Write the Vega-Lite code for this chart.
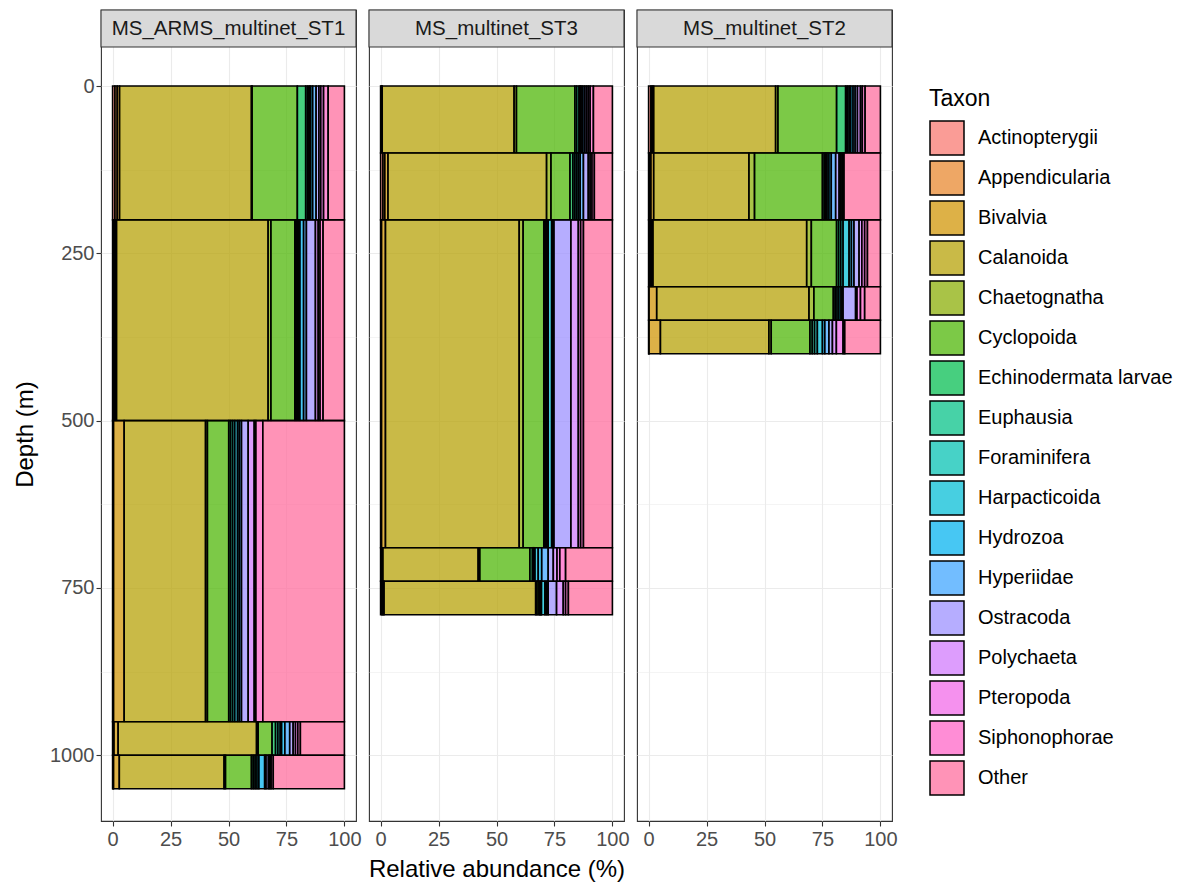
{
  "$schema": "https://vega.github.io/schema/vega-lite/v6.json",
  "padding": {"left": 12, "top": 8, "right": 5, "bottom": 2},
  "background": "white",
  "config": {
    "font": "Liberation Sans",
    "view": {"stroke": "#333333", "strokeWidth": 1.1},
    "axis": {"gridColor": "#EBEBEB", "domain": false, "tickColor": "#333333", "tickSize": 5, "tickWidth": 1.1, "labelFontSize": 20, "labelColor": "#4D4D4D", "labelPadding": 3, "titleFontSize": 24, "titleColor": "#000000", "titleFontWeight": "normal", "labelFont": "Liberation Sans", "titleFont": "Liberation Sans"},
    "legend": {"orient": "none", "legendX": 828, "legendY": 78, "titleFontSize": 23, "titleFontWeight": "normal", "titleColor": "#000000", "titlePadding": 9, "labelFontSize": 20, "labelColor": "#000000", "labelOffset": 13, "labelLimit": 400, "symbolType": "square", "symbolSize": 1156, "symbolStrokeColor": "#000000", "symbolStrokeWidth": 1.5, "rowPadding": 0, "titleFont": "Liberation Sans", "labelFont": "Liberation Sans"}
  },
  "datasets": {
    "taxa": [
      {"taxon": "Actinopterygii", "k": 0}, {"taxon": "Appendicularia", "k": 1}, {"taxon": "Bivalvia", "k": 2}, {"taxon": "Calanoida", "k": 3}, {"taxon": "Chaetognatha", "k": 4}, {"taxon": "Cyclopoida", "k": 5}, {"taxon": "Echinodermata larvae", "k": 6}, {"taxon": "Euphausia", "k": 7}, {"taxon": "Foraminifera", "k": 8}, {"taxon": "Harpacticoida", "k": 9}, {"taxon": "Hydrozoa", "k": 10}, {"taxon": "Hyperiidae", "k": 11}, {"taxon": "Ostracoda", "k": 12}, {"taxon": "Polychaeta", "k": 13}, {"taxon": "Pteropoda", "k": 14}, {"taxon": "Siphonophorae", "k": 15}, {"taxon": "Other", "k": 16}
    ],
    "abund": [
      {"station": "MS_ARMS_multinet_ST1", "top": 0, "bottom": 200, "taxon": "Actinopterygii", "pct": 1.0},
      {"station": "MS_ARMS_multinet_ST1", "top": 0, "bottom": 200, "taxon": "Appendicularia", "pct": 1.0},
      {"station": "MS_ARMS_multinet_ST1", "top": 0, "bottom": 200, "taxon": "Bivalvia", "pct": 1.0},
      {"station": "MS_ARMS_multinet_ST1", "top": 0, "bottom": 200, "taxon": "Calanoida", "pct": 56.9},
      {"station": "MS_ARMS_multinet_ST1", "top": 0, "bottom": 200, "taxon": "Chaetognatha", "pct": 0.3},
      {"station": "MS_ARMS_multinet_ST1", "top": 0, "bottom": 200, "taxon": "Cyclopoida", "pct": 19.5},
      {"station": "MS_ARMS_multinet_ST1", "top": 0, "bottom": 200, "taxon": "Echinodermata larvae", "pct": 3.6},
      {"station": "MS_ARMS_multinet_ST1", "top": 0, "bottom": 200, "taxon": "Euphausia", "pct": 0.8},
      {"station": "MS_ARMS_multinet_ST1", "top": 0, "bottom": 200, "taxon": "Foraminifera", "pct": 0.7},
      {"station": "MS_ARMS_multinet_ST1", "top": 0, "bottom": 200, "taxon": "Harpacticoida", "pct": 0.6},
      {"station": "MS_ARMS_multinet_ST1", "top": 0, "bottom": 200, "taxon": "Hydrozoa", "pct": 0.9},
      {"station": "MS_ARMS_multinet_ST1", "top": 0, "bottom": 200, "taxon": "Hyperiidae", "pct": 1.5},
      {"station": "MS_ARMS_multinet_ST1", "top": 0, "bottom": 200, "taxon": "Ostracoda", "pct": 1.2},
      {"station": "MS_ARMS_multinet_ST1", "top": 0, "bottom": 200, "taxon": "Polychaeta", "pct": 0.8},
      {"station": "MS_ARMS_multinet_ST1", "top": 0, "bottom": 200, "taxon": "Pteropoda", "pct": 1.2},
      {"station": "MS_ARMS_multinet_ST1", "top": 0, "bottom": 200, "taxon": "Siphonophorae", "pct": 2.0},
      {"station": "MS_ARMS_multinet_ST1", "top": 0, "bottom": 200, "taxon": "Other", "pct": 7.0},

      {"station": "MS_ARMS_multinet_ST1", "top": 200, "bottom": 500, "taxon": "Actinopterygii", "pct": 0.6},
      {"station": "MS_ARMS_multinet_ST1", "top": 200, "bottom": 500, "taxon": "Appendicularia", "pct": 0.5},
      {"station": "MS_ARMS_multinet_ST1", "top": 200, "bottom": 500, "taxon": "Bivalvia", "pct": 0.6},
      {"station": "MS_ARMS_multinet_ST1", "top": 200, "bottom": 500, "taxon": "Calanoida", "pct": 65.4},
      {"station": "MS_ARMS_multinet_ST1", "top": 200, "bottom": 500, "taxon": "Chaetognatha", "pct": 1.2},
      {"station": "MS_ARMS_multinet_ST1", "top": 200, "bottom": 500, "taxon": "Cyclopoida", "pct": 10.3},
      {"station": "MS_ARMS_multinet_ST1", "top": 200, "bottom": 500, "taxon": "Echinodermata larvae", "pct": 0.6},
      {"station": "MS_ARMS_multinet_ST1", "top": 200, "bottom": 500, "taxon": "Euphausia", "pct": 0.5},
      {"station": "MS_ARMS_multinet_ST1", "top": 200, "bottom": 500, "taxon": "Foraminifera", "pct": 0.6},
      {"station": "MS_ARMS_multinet_ST1", "top": 200, "bottom": 500, "taxon": "Harpacticoida", "pct": 0.5},
      {"station": "MS_ARMS_multinet_ST1", "top": 200, "bottom": 500, "taxon": "Hydrozoa", "pct": 1.6},
      {"station": "MS_ARMS_multinet_ST1", "top": 200, "bottom": 500, "taxon": "Hyperiidae", "pct": 1.2},
      {"station": "MS_ARMS_multinet_ST1", "top": 200, "bottom": 500, "taxon": "Ostracoda", "pct": 3.9},
      {"station": "MS_ARMS_multinet_ST1", "top": 200, "bottom": 500, "taxon": "Polychaeta", "pct": 1.2},
      {"station": "MS_ARMS_multinet_ST1", "top": 200, "bottom": 500, "taxon": "Pteropoda", "pct": 0.8},
      {"station": "MS_ARMS_multinet_ST1", "top": 200, "bottom": 500, "taxon": "Siphonophorae", "pct": 1.3},
      {"station": "MS_ARMS_multinet_ST1", "top": 200, "bottom": 500, "taxon": "Other", "pct": 9.2},

      {"station": "MS_ARMS_multinet_ST1", "top": 500, "bottom": 950, "taxon": "Actinopterygii", "pct": 0.2},
      {"station": "MS_ARMS_multinet_ST1", "top": 500, "bottom": 950, "taxon": "Appendicularia", "pct": 0.2},
      {"station": "MS_ARMS_multinet_ST1", "top": 500, "bottom": 950, "taxon": "Bivalvia", "pct": 4.6},
      {"station": "MS_ARMS_multinet_ST1", "top": 500, "bottom": 950, "taxon": "Calanoida", "pct": 35.1},
      {"station": "MS_ARMS_multinet_ST1", "top": 500, "bottom": 950, "taxon": "Chaetognatha", "pct": 0.8},
      {"station": "MS_ARMS_multinet_ST1", "top": 500, "bottom": 950, "taxon": "Cyclopoida", "pct": 9.2},
      {"station": "MS_ARMS_multinet_ST1", "top": 500, "bottom": 950, "taxon": "Echinodermata larvae", "pct": 0.8},
      {"station": "MS_ARMS_multinet_ST1", "top": 500, "bottom": 950, "taxon": "Euphausia", "pct": 0.9},
      {"station": "MS_ARMS_multinet_ST1", "top": 500, "bottom": 950, "taxon": "Foraminifera", "pct": 0.9},
      {"station": "MS_ARMS_multinet_ST1", "top": 500, "bottom": 950, "taxon": "Harpacticoida", "pct": 1.2},
      {"station": "MS_ARMS_multinet_ST1", "top": 500, "bottom": 950, "taxon": "Hydrozoa", "pct": 0.8},
      {"station": "MS_ARMS_multinet_ST1", "top": 500, "bottom": 950, "taxon": "Hyperiidae", "pct": 0.9},
      {"station": "MS_ARMS_multinet_ST1", "top": 500, "bottom": 950, "taxon": "Ostracoda", "pct": 2.9},
      {"station": "MS_ARMS_multinet_ST1", "top": 500, "bottom": 950, "taxon": "Polychaeta", "pct": 2.6},
      {"station": "MS_ARMS_multinet_ST1", "top": 500, "bottom": 950, "taxon": "Pteropoda", "pct": 0.7},
      {"station": "MS_ARMS_multinet_ST1", "top": 500, "bottom": 950, "taxon": "Siphonophorae", "pct": 3.0},
      {"station": "MS_ARMS_multinet_ST1", "top": 500, "bottom": 950, "taxon": "Other", "pct": 35.2},

      {"station": "MS_ARMS_multinet_ST1", "top": 950, "bottom": 1000, "taxon": "Actinopterygii", "pct": 0.3},
      {"station": "MS_ARMS_multinet_ST1", "top": 950, "bottom": 1000, "taxon": "Appendicularia", "pct": 0.3},
      {"station": "MS_ARMS_multinet_ST1", "top": 950, "bottom": 1000, "taxon": "Bivalvia", "pct": 1.8},
      {"station": "MS_ARMS_multinet_ST1", "top": 950, "bottom": 1000, "taxon": "Calanoida", "pct": 59.7},
      {"station": "MS_ARMS_multinet_ST1", "top": 950, "bottom": 1000, "taxon": "Chaetognatha", "pct": 0.7},
      {"station": "MS_ARMS_multinet_ST1", "top": 950, "bottom": 1000, "taxon": "Cyclopoida", "pct": 6.0},
      {"station": "MS_ARMS_multinet_ST1", "top": 950, "bottom": 1000, "taxon": "Echinodermata larvae", "pct": 1.5},
      {"station": "MS_ARMS_multinet_ST1", "top": 950, "bottom": 1000, "taxon": "Euphausia", "pct": 1.0},
      {"station": "MS_ARMS_multinet_ST1", "top": 950, "bottom": 1000, "taxon": "Foraminifera", "pct": 1.0},
      {"station": "MS_ARMS_multinet_ST1", "top": 950, "bottom": 1000, "taxon": "Harpacticoida", "pct": 0.6},
      {"station": "MS_ARMS_multinet_ST1", "top": 950, "bottom": 1000, "taxon": "Hydrozoa", "pct": 1.4},
      {"station": "MS_ARMS_multinet_ST1", "top": 950, "bottom": 1000, "taxon": "Hyperiidae", "pct": 2.1},
      {"station": "MS_ARMS_multinet_ST1", "top": 950, "bottom": 1000, "taxon": "Ostracoda", "pct": 1.5},
      {"station": "MS_ARMS_multinet_ST1", "top": 950, "bottom": 1000, "taxon": "Polychaeta", "pct": 1.0},
      {"station": "MS_ARMS_multinet_ST1", "top": 950, "bottom": 1000, "taxon": "Pteropoda", "pct": 1.0},
      {"station": "MS_ARMS_multinet_ST1", "top": 950, "bottom": 1000, "taxon": "Siphonophorae", "pct": 1.1},
      {"station": "MS_ARMS_multinet_ST1", "top": 950, "bottom": 1000, "taxon": "Other", "pct": 19.0},

      {"station": "MS_ARMS_multinet_ST1", "top": 1000, "bottom": 1050, "taxon": "Actinopterygii", "pct": 0.2},
      {"station": "MS_ARMS_multinet_ST1", "top": 1000, "bottom": 1050, "taxon": "Appendicularia", "pct": 0.2},
      {"station": "MS_ARMS_multinet_ST1", "top": 1000, "bottom": 1050, "taxon": "Bivalvia", "pct": 2.5},
      {"station": "MS_ARMS_multinet_ST1", "top": 1000, "bottom": 1050, "taxon": "Calanoida", "pct": 45.2},
      {"station": "MS_ARMS_multinet_ST1", "top": 1000, "bottom": 1050, "taxon": "Chaetognatha", "pct": 0.6},
      {"station": "MS_ARMS_multinet_ST1", "top": 1000, "bottom": 1050, "taxon": "Cyclopoida", "pct": 11.2},
      {"station": "MS_ARMS_multinet_ST1", "top": 1000, "bottom": 1050, "taxon": "Echinodermata larvae", "pct": 0.8},
      {"station": "MS_ARMS_multinet_ST1", "top": 1000, "bottom": 1050, "taxon": "Euphausia", "pct": 0.8},
      {"station": "MS_ARMS_multinet_ST1", "top": 1000, "bottom": 1050, "taxon": "Foraminifera", "pct": 0.8},
      {"station": "MS_ARMS_multinet_ST1", "top": 1000, "bottom": 1050, "taxon": "Harpacticoida", "pct": 0.8},
      {"station": "MS_ARMS_multinet_ST1", "top": 1000, "bottom": 1050, "taxon": "Hydrozoa", "pct": 2.5},
      {"station": "MS_ARMS_multinet_ST1", "top": 1000, "bottom": 1050, "taxon": "Hyperiidae", "pct": 0.6},
      {"station": "MS_ARMS_multinet_ST1", "top": 1000, "bottom": 1050, "taxon": "Ostracoda", "pct": 1.0},
      {"station": "MS_ARMS_multinet_ST1", "top": 1000, "bottom": 1050, "taxon": "Polychaeta", "pct": 0.6},
      {"station": "MS_ARMS_multinet_ST1", "top": 1000, "bottom": 1050, "taxon": "Pteropoda", "pct": 0.6},
      {"station": "MS_ARMS_multinet_ST1", "top": 1000, "bottom": 1050, "taxon": "Siphonophorae", "pct": 0.9},
      {"station": "MS_ARMS_multinet_ST1", "top": 1000, "bottom": 1050, "taxon": "Other", "pct": 30.7},

      {"station": "MS_multinet_ST3", "top": 0, "bottom": 100, "taxon": "Actinopterygii", "pct": 0.3},
      {"station": "MS_multinet_ST3", "top": 0, "bottom": 100, "taxon": "Appendicularia", "pct": 0.2},
      {"station": "MS_multinet_ST3", "top": 0, "bottom": 100, "taxon": "Bivalvia", "pct": 0.2},
      {"station": "MS_multinet_ST3", "top": 0, "bottom": 100, "taxon": "Calanoida", "pct": 56.9},
      {"station": "MS_multinet_ST3", "top": 0, "bottom": 100, "taxon": "Chaetognatha", "pct": 1.0},
      {"station": "MS_multinet_ST3", "top": 0, "bottom": 100, "taxon": "Cyclopoida", "pct": 25.2},
      {"station": "MS_multinet_ST3", "top": 0, "bottom": 100, "taxon": "Echinodermata larvae", "pct": 0.8},
      {"station": "MS_multinet_ST3", "top": 0, "bottom": 100, "taxon": "Euphausia", "pct": 1.0},
      {"station": "MS_multinet_ST3", "top": 0, "bottom": 100, "taxon": "Foraminifera", "pct": 0.5},
      {"station": "MS_multinet_ST3", "top": 0, "bottom": 100, "taxon": "Harpacticoida", "pct": 0.4},
      {"station": "MS_multinet_ST3", "top": 0, "bottom": 100, "taxon": "Hydrozoa", "pct": 0.7},
      {"station": "MS_multinet_ST3", "top": 0, "bottom": 100, "taxon": "Hyperiidae", "pct": 0.8},
      {"station": "MS_multinet_ST3", "top": 0, "bottom": 100, "taxon": "Ostracoda", "pct": 0.8},
      {"station": "MS_multinet_ST3", "top": 0, "bottom": 100, "taxon": "Polychaeta", "pct": 0.8},
      {"station": "MS_multinet_ST3", "top": 0, "bottom": 100, "taxon": "Pteropoda", "pct": 0.8},
      {"station": "MS_multinet_ST3", "top": 0, "bottom": 100, "taxon": "Siphonophorae", "pct": 1.4},
      {"station": "MS_multinet_ST3", "top": 0, "bottom": 100, "taxon": "Other", "pct": 8.2},

      {"station": "MS_multinet_ST3", "top": 100, "bottom": 200, "taxon": "Actinopterygii", "pct": 1.0},
      {"station": "MS_multinet_ST3", "top": 100, "bottom": 200, "taxon": "Appendicularia", "pct": 0.8},
      {"station": "MS_multinet_ST3", "top": 100, "bottom": 200, "taxon": "Bivalvia", "pct": 1.4},
      {"station": "MS_multinet_ST3", "top": 100, "bottom": 200, "taxon": "Calanoida", "pct": 68.4},
      {"station": "MS_multinet_ST3", "top": 100, "bottom": 200, "taxon": "Chaetognatha", "pct": 1.9},
      {"station": "MS_multinet_ST3", "top": 100, "bottom": 200, "taxon": "Cyclopoida", "pct": 8.2},
      {"station": "MS_multinet_ST3", "top": 100, "bottom": 200, "taxon": "Echinodermata larvae", "pct": 1.2},
      {"station": "MS_multinet_ST3", "top": 100, "bottom": 200, "taxon": "Euphausia", "pct": 0.8},
      {"station": "MS_multinet_ST3", "top": 100, "bottom": 200, "taxon": "Foraminifera", "pct": 0.8},
      {"station": "MS_multinet_ST3", "top": 100, "bottom": 200, "taxon": "Harpacticoida", "pct": 0.8},
      {"station": "MS_multinet_ST3", "top": 100, "bottom": 200, "taxon": "Hydrozoa", "pct": 0.8},
      {"station": "MS_multinet_ST3", "top": 100, "bottom": 200, "taxon": "Hyperiidae", "pct": 1.4},
      {"station": "MS_multinet_ST3", "top": 100, "bottom": 200, "taxon": "Ostracoda", "pct": 2.1},
      {"station": "MS_multinet_ST3", "top": 100, "bottom": 200, "taxon": "Polychaeta", "pct": 0.8},
      {"station": "MS_multinet_ST3", "top": 100, "bottom": 200, "taxon": "Pteropoda", "pct": 0.8},
      {"station": "MS_multinet_ST3", "top": 100, "bottom": 200, "taxon": "Siphonophorae", "pct": 1.0},
      {"station": "MS_multinet_ST3", "top": 100, "bottom": 200, "taxon": "Other", "pct": 7.8},

      {"station": "MS_multinet_ST3", "top": 200, "bottom": 690, "taxon": "Actinopterygii", "pct": 0.2},
      {"station": "MS_multinet_ST3", "top": 200, "bottom": 690, "taxon": "Appendicularia", "pct": 0.2},
      {"station": "MS_multinet_ST3", "top": 200, "bottom": 690, "taxon": "Bivalvia", "pct": 1.7},
      {"station": "MS_multinet_ST3", "top": 200, "bottom": 690, "taxon": "Calanoida", "pct": 57.7},
      {"station": "MS_multinet_ST3", "top": 200, "bottom": 690, "taxon": "Chaetognatha", "pct": 1.7},
      {"station": "MS_multinet_ST3", "top": 200, "bottom": 690, "taxon": "Cyclopoida", "pct": 8.9},
      {"station": "MS_multinet_ST3", "top": 200, "bottom": 690, "taxon": "Echinodermata larvae", "pct": 0.6},
      {"station": "MS_multinet_ST3", "top": 200, "bottom": 690, "taxon": "Euphausia", "pct": 0.6},
      {"station": "MS_multinet_ST3", "top": 200, "bottom": 690, "taxon": "Foraminifera", "pct": 0.7},
      {"station": "MS_multinet_ST3", "top": 200, "bottom": 690, "taxon": "Harpacticoida", "pct": 1.5},
      {"station": "MS_multinet_ST3", "top": 200, "bottom": 690, "taxon": "Hydrozoa", "pct": 0.5},
      {"station": "MS_multinet_ST3", "top": 200, "bottom": 690, "taxon": "Hyperiidae", "pct": 0.5},
      {"station": "MS_multinet_ST3", "top": 200, "bottom": 690, "taxon": "Ostracoda", "pct": 7.3},
      {"station": "MS_multinet_ST3", "top": 200, "bottom": 690, "taxon": "Polychaeta", "pct": 3.2},
      {"station": "MS_multinet_ST3", "top": 200, "bottom": 690, "taxon": "Pteropoda", "pct": 1.0},
      {"station": "MS_multinet_ST3", "top": 200, "bottom": 690, "taxon": "Siphonophorae", "pct": 1.2},
      {"station": "MS_multinet_ST3", "top": 200, "bottom": 690, "taxon": "Other", "pct": 12.5},

      {"station": "MS_multinet_ST3", "top": 690, "bottom": 740, "taxon": "Actinopterygii", "pct": 0.2},
      {"station": "MS_multinet_ST3", "top": 690, "bottom": 740, "taxon": "Appendicularia", "pct": 0.2},
      {"station": "MS_multinet_ST3", "top": 690, "bottom": 740, "taxon": "Bivalvia", "pct": 0.6},
      {"station": "MS_multinet_ST3", "top": 690, "bottom": 740, "taxon": "Calanoida", "pct": 41.1},
      {"station": "MS_multinet_ST3", "top": 690, "bottom": 740, "taxon": "Chaetognatha", "pct": 0.7},
      {"station": "MS_multinet_ST3", "top": 690, "bottom": 740, "taxon": "Cyclopoida", "pct": 21.6},
      {"station": "MS_multinet_ST3", "top": 690, "bottom": 740, "taxon": "Echinodermata larvae", "pct": 1.1},
      {"station": "MS_multinet_ST3", "top": 690, "bottom": 740, "taxon": "Euphausia", "pct": 0.5},
      {"station": "MS_multinet_ST3", "top": 690, "bottom": 740, "taxon": "Foraminifera", "pct": 0.6},
      {"station": "MS_multinet_ST3", "top": 690, "bottom": 740, "taxon": "Harpacticoida", "pct": 1.4},
      {"station": "MS_multinet_ST3", "top": 690, "bottom": 740, "taxon": "Hydrozoa", "pct": 1.5},
      {"station": "MS_multinet_ST3", "top": 690, "bottom": 740, "taxon": "Hyperiidae", "pct": 2.8},
      {"station": "MS_multinet_ST3", "top": 690, "bottom": 740, "taxon": "Ostracoda", "pct": 2.2},
      {"station": "MS_multinet_ST3", "top": 690, "bottom": 740, "taxon": "Polychaeta", "pct": 1.6},
      {"station": "MS_multinet_ST3", "top": 690, "bottom": 740, "taxon": "Pteropoda", "pct": 1.2},
      {"station": "MS_multinet_ST3", "top": 690, "bottom": 740, "taxon": "Siphonophorae", "pct": 2.5},
      {"station": "MS_multinet_ST3", "top": 690, "bottom": 740, "taxon": "Other", "pct": 20.2},

      {"station": "MS_multinet_ST3", "top": 740, "bottom": 790, "taxon": "Actinopterygii", "pct": 0.5},
      {"station": "MS_multinet_ST3", "top": 740, "bottom": 790, "taxon": "Appendicularia", "pct": 0.5},
      {"station": "MS_multinet_ST3", "top": 740, "bottom": 790, "taxon": "Bivalvia", "pct": 0.5},
      {"station": "MS_multinet_ST3", "top": 740, "bottom": 790, "taxon": "Calanoida", "pct": 65.4},
      {"station": "MS_multinet_ST3", "top": 740, "bottom": 790, "taxon": "Chaetognatha", "pct": 0.6},
      {"station": "MS_multinet_ST3", "top": 740, "bottom": 790, "taxon": "Cyclopoida", "pct": 0.8},
      {"station": "MS_multinet_ST3", "top": 740, "bottom": 790, "taxon": "Echinodermata larvae", "pct": 0.4},
      {"station": "MS_multinet_ST3", "top": 740, "bottom": 790, "taxon": "Euphausia", "pct": 0.4},
      {"station": "MS_multinet_ST3", "top": 740, "bottom": 790, "taxon": "Foraminifera", "pct": 0.3},
      {"station": "MS_multinet_ST3", "top": 740, "bottom": 790, "taxon": "Harpacticoida", "pct": 1.5},
      {"station": "MS_multinet_ST3", "top": 740, "bottom": 790, "taxon": "Hydrozoa", "pct": 0.7},
      {"station": "MS_multinet_ST3", "top": 740, "bottom": 790, "taxon": "Hyperiidae", "pct": 0.7},
      {"station": "MS_multinet_ST3", "top": 740, "bottom": 790, "taxon": "Ostracoda", "pct": 3.6},
      {"station": "MS_multinet_ST3", "top": 740, "bottom": 790, "taxon": "Polychaeta", "pct": 2.9},
      {"station": "MS_multinet_ST3", "top": 740, "bottom": 790, "taxon": "Pteropoda", "pct": 1.0},
      {"station": "MS_multinet_ST3", "top": 740, "bottom": 790, "taxon": "Siphonophorae", "pct": 1.2},
      {"station": "MS_multinet_ST3", "top": 740, "bottom": 790, "taxon": "Other", "pct": 19.0},

      {"station": "MS_multinet_ST2", "top": 0, "bottom": 100, "taxon": "Actinopterygii", "pct": 1.0},
      {"station": "MS_multinet_ST2", "top": 0, "bottom": 100, "taxon": "Appendicularia", "pct": 0.6},
      {"station": "MS_multinet_ST2", "top": 0, "bottom": 100, "taxon": "Bivalvia", "pct": 0.6},
      {"station": "MS_multinet_ST2", "top": 0, "bottom": 100, "taxon": "Calanoida", "pct": 52.6},
      {"station": "MS_multinet_ST2", "top": 0, "bottom": 100, "taxon": "Chaetognatha", "pct": 1.0},
      {"station": "MS_multinet_ST2", "top": 0, "bottom": 100, "taxon": "Cyclopoida", "pct": 25.3},
      {"station": "MS_multinet_ST2", "top": 0, "bottom": 100, "taxon": "Echinodermata larvae", "pct": 3.9},
      {"station": "MS_multinet_ST2", "top": 0, "bottom": 100, "taxon": "Euphausia", "pct": 0.7},
      {"station": "MS_multinet_ST2", "top": 0, "bottom": 100, "taxon": "Foraminifera", "pct": 0.8},
      {"station": "MS_multinet_ST2", "top": 0, "bottom": 100, "taxon": "Harpacticoida", "pct": 0.7},
      {"station": "MS_multinet_ST2", "top": 0, "bottom": 100, "taxon": "Hydrozoa", "pct": 1.0},
      {"station": "MS_multinet_ST2", "top": 0, "bottom": 100, "taxon": "Hyperiidae", "pct": 0.9},
      {"station": "MS_multinet_ST2", "top": 0, "bottom": 100, "taxon": "Ostracoda", "pct": 1.0},
      {"station": "MS_multinet_ST2", "top": 0, "bottom": 100, "taxon": "Polychaeta", "pct": 1.3},
      {"station": "MS_multinet_ST2", "top": 0, "bottom": 100, "taxon": "Pteropoda", "pct": 0.8},
      {"station": "MS_multinet_ST2", "top": 0, "bottom": 100, "taxon": "Siphonophorae", "pct": 1.2},
      {"station": "MS_multinet_ST2", "top": 0, "bottom": 100, "taxon": "Other", "pct": 6.6},

      {"station": "MS_multinet_ST2", "top": 100, "bottom": 200, "taxon": "Actinopterygii", "pct": 0.5},
      {"station": "MS_multinet_ST2", "top": 100, "bottom": 200, "taxon": "Appendicularia", "pct": 0.5},
      {"station": "MS_multinet_ST2", "top": 100, "bottom": 200, "taxon": "Bivalvia", "pct": 1.2},
      {"station": "MS_multinet_ST2", "top": 100, "bottom": 200, "taxon": "Calanoida", "pct": 41.1},
      {"station": "MS_multinet_ST2", "top": 100, "bottom": 200, "taxon": "Chaetognatha", "pct": 2.4},
      {"station": "MS_multinet_ST2", "top": 100, "bottom": 200, "taxon": "Cyclopoida", "pct": 29.3},
      {"station": "MS_multinet_ST2", "top": 100, "bottom": 200, "taxon": "Echinodermata larvae", "pct": 0.8},
      {"station": "MS_multinet_ST2", "top": 100, "bottom": 200, "taxon": "Euphausia", "pct": 0.6},
      {"station": "MS_multinet_ST2", "top": 100, "bottom": 200, "taxon": "Foraminifera", "pct": 0.6},
      {"station": "MS_multinet_ST2", "top": 100, "bottom": 200, "taxon": "Harpacticoida", "pct": 0.8},
      {"station": "MS_multinet_ST2", "top": 100, "bottom": 200, "taxon": "Hydrozoa", "pct": 1.0},
      {"station": "MS_multinet_ST2", "top": 100, "bottom": 200, "taxon": "Hyperiidae", "pct": 1.9},
      {"station": "MS_multinet_ST2", "top": 100, "bottom": 200, "taxon": "Ostracoda", "pct": 1.5},
      {"station": "MS_multinet_ST2", "top": 100, "bottom": 200, "taxon": "Polychaeta", "pct": 0.7},
      {"station": "MS_multinet_ST2", "top": 100, "bottom": 200, "taxon": "Pteropoda", "pct": 0.7},
      {"station": "MS_multinet_ST2", "top": 100, "bottom": 200, "taxon": "Siphonophorae", "pct": 0.7},
      {"station": "MS_multinet_ST2", "top": 100, "bottom": 200, "taxon": "Other", "pct": 15.7},

      {"station": "MS_multinet_ST2", "top": 200, "bottom": 300, "taxon": "Actinopterygii", "pct": 0.6},
      {"station": "MS_multinet_ST2", "top": 200, "bottom": 300, "taxon": "Appendicularia", "pct": 0.6},
      {"station": "MS_multinet_ST2", "top": 200, "bottom": 300, "taxon": "Bivalvia", "pct": 0.7},
      {"station": "MS_multinet_ST2", "top": 200, "bottom": 300, "taxon": "Calanoida", "pct": 66.3},
      {"station": "MS_multinet_ST2", "top": 200, "bottom": 300, "taxon": "Chaetognatha", "pct": 2.0},
      {"station": "MS_multinet_ST2", "top": 200, "bottom": 300, "taxon": "Cyclopoida", "pct": 10.9},
      {"station": "MS_multinet_ST2", "top": 200, "bottom": 300, "taxon": "Echinodermata larvae", "pct": 0.9},
      {"station": "MS_multinet_ST2", "top": 200, "bottom": 300, "taxon": "Euphausia", "pct": 0.9},
      {"station": "MS_multinet_ST2", "top": 200, "bottom": 300, "taxon": "Foraminifera", "pct": 1.0},
      {"station": "MS_multinet_ST2", "top": 200, "bottom": 300, "taxon": "Harpacticoida", "pct": 2.6},
      {"station": "MS_multinet_ST2", "top": 200, "bottom": 300, "taxon": "Hydrozoa", "pct": 1.0},
      {"station": "MS_multinet_ST2", "top": 200, "bottom": 300, "taxon": "Hyperiidae", "pct": 1.1},
      {"station": "MS_multinet_ST2", "top": 200, "bottom": 300, "taxon": "Ostracoda", "pct": 2.2},
      {"station": "MS_multinet_ST2", "top": 200, "bottom": 300, "taxon": "Polychaeta", "pct": 1.2},
      {"station": "MS_multinet_ST2", "top": 200, "bottom": 300, "taxon": "Pteropoda", "pct": 1.2},
      {"station": "MS_multinet_ST2", "top": 200, "bottom": 300, "taxon": "Siphonophorae", "pct": 1.2},
      {"station": "MS_multinet_ST2", "top": 200, "bottom": 300, "taxon": "Other", "pct": 5.6},

      {"station": "MS_multinet_ST2", "top": 300, "bottom": 350, "taxon": "Actinopterygii", "pct": 0.1},
      {"station": "MS_multinet_ST2", "top": 300, "bottom": 350, "taxon": "Appendicularia", "pct": 0.1},
      {"station": "MS_multinet_ST2", "top": 300, "bottom": 350, "taxon": "Bivalvia", "pct": 3.3},
      {"station": "MS_multinet_ST2", "top": 300, "bottom": 350, "taxon": "Calanoida", "pct": 65.7},
      {"station": "MS_multinet_ST2", "top": 300, "bottom": 350, "taxon": "Chaetognatha", "pct": 2.1},
      {"station": "MS_multinet_ST2", "top": 300, "bottom": 350, "taxon": "Cyclopoida", "pct": 8.4},
      {"station": "MS_multinet_ST2", "top": 300, "bottom": 350, "taxon": "Echinodermata larvae", "pct": 0.8},
      {"station": "MS_multinet_ST2", "top": 300, "bottom": 350, "taxon": "Euphausia", "pct": 0.8},
      {"station": "MS_multinet_ST2", "top": 300, "bottom": 350, "taxon": "Foraminifera", "pct": 0.8},
      {"station": "MS_multinet_ST2", "top": 300, "bottom": 350, "taxon": "Harpacticoida", "pct": 0.9},
      {"station": "MS_multinet_ST2", "top": 300, "bottom": 350, "taxon": "Hydrozoa", "pct": 0.4},
      {"station": "MS_multinet_ST2", "top": 300, "bottom": 350, "taxon": "Hyperiidae", "pct": 0.5},
      {"station": "MS_multinet_ST2", "top": 300, "bottom": 350, "taxon": "Ostracoda", "pct": 5.4},
      {"station": "MS_multinet_ST2", "top": 300, "bottom": 350, "taxon": "Polychaeta", "pct": 0.6},
      {"station": "MS_multinet_ST2", "top": 300, "bottom": 350, "taxon": "Pteropoda", "pct": 1.5},
      {"station": "MS_multinet_ST2", "top": 300, "bottom": 350, "taxon": "Siphonophorae", "pct": 1.8},
      {"station": "MS_multinet_ST2", "top": 300, "bottom": 350, "taxon": "Other", "pct": 6.8},

      {"station": "MS_multinet_ST2", "top": 350, "bottom": 400, "taxon": "Actinopterygii", "pct": 0.1},
      {"station": "MS_multinet_ST2", "top": 350, "bottom": 400, "taxon": "Appendicularia", "pct": 0.1},
      {"station": "MS_multinet_ST2", "top": 350, "bottom": 400, "taxon": "Bivalvia", "pct": 4.9},
      {"station": "MS_multinet_ST2", "top": 350, "bottom": 400, "taxon": "Calanoida", "pct": 46.8},
      {"station": "MS_multinet_ST2", "top": 350, "bottom": 400, "taxon": "Chaetognatha", "pct": 1.0},
      {"station": "MS_multinet_ST2", "top": 350, "bottom": 400, "taxon": "Cyclopoida", "pct": 16.7},
      {"station": "MS_multinet_ST2", "top": 350, "bottom": 400, "taxon": "Echinodermata larvae", "pct": 1.0},
      {"station": "MS_multinet_ST2", "top": 350, "bottom": 400, "taxon": "Euphausia", "pct": 1.0},
      {"station": "MS_multinet_ST2", "top": 350, "bottom": 400, "taxon": "Foraminifera", "pct": 1.2},
      {"station": "MS_multinet_ST2", "top": 350, "bottom": 400, "taxon": "Harpacticoida", "pct": 2.2},
      {"station": "MS_multinet_ST2", "top": 350, "bottom": 400, "taxon": "Hydrozoa", "pct": 1.0},
      {"station": "MS_multinet_ST2", "top": 350, "bottom": 400, "taxon": "Hyperiidae", "pct": 1.8},
      {"station": "MS_multinet_ST2", "top": 350, "bottom": 400, "taxon": "Ostracoda", "pct": 1.5},
      {"station": "MS_multinet_ST2", "top": 350, "bottom": 400, "taxon": "Polychaeta", "pct": 1.7},
      {"station": "MS_multinet_ST2", "top": 350, "bottom": 400, "taxon": "Pteropoda", "pct": 2.9},
      {"station": "MS_multinet_ST2", "top": 350, "bottom": 400, "taxon": "Siphonophorae", "pct": 0.7},
      {"station": "MS_multinet_ST2", "top": 350, "bottom": 400, "taxon": "Other", "pct": 15.4}
    ]
  },
  "hconcat": [
    {
      "width": 255, "height": 811,
      "layer": [
        {
          "data": {"name": "abund"},
          "transform": [
            {"filter": "datum.station === 'MS_ARMS_multinet_ST1'"},
            {"lookup": "taxon", "from": {"data": {"name": "taxa"}, "key": "taxon", "fields": ["k"]}},
            {"stack": "pct", "groupby": ["top"], "sort": [{"field": "k", "order": "ascending"}], "as": ["x0", "x1"]}
          ],
          "mark": {"type": "rect", "stroke": "#000000", "strokeWidth": 1.6, "fillOpacity": 0.72},
          "encoding": {
            "x": {"field": "x0", "type": "quantitative", "scale": {"domain": [-5, 105], "nice": false, "zero": false},
              "axis": {"title": null, "values": [0, 12.5, 25, 37.5, 50, 62.5, 75, 87.5, 100], "labelExpr": "datum.value % 25 === 0 ? datum.label : ''", "tickOpacity": {"condition": {"test": "datum.value % 25 === 0", "value": 1}, "value": 0}, "gridWidth": {"condition": {"test": "datum.value % 25 === 0", "value": 1.1}, "value": 0.55}, "labelFlush": false, "labelOverlap": false}},
            "x2": {"field": "x1"},
            "y": {"field": "top", "type": "quantitative", "scale": {"domain": [-113.6, 1098.3], "reverse": true, "nice": false, "zero": false},
              "axis": {"title": "Depth (m)", "titlePadding": 12, "titleY": 424, "labelPadding": 2, "format": "d", "values": [0, 125, 250, 375, 500, 625, 750, 875, 1000], "labelExpr": "datum.value % 250 === 0 ? datum.label : ''", "tickOpacity": {"condition": {"test": "datum.value % 250 === 0", "value": 1}, "value": 0}, "gridWidth": {"condition": {"test": "datum.value % 250 === 0", "value": 1.1}, "value": 0.55}, "labelFlush": false, "labelOverlap": false}},
            "y2": {"field": "bottom"},
            "fill": {"field": "taxon", "type": "nominal", "title": "Taxon",
              "legend": {"encode": {"symbols": {"update": {"fillOpacity": {"value": 0.72}, "strokeOpacity": {"value": 1}}}}},
              "scale": {"domain": ["Actinopterygii", "Appendicularia", "Bivalvia", "Calanoida", "Chaetognatha", "Cyclopoida", "Echinodermata larvae", "Euphausia", "Foraminifera", "Harpacticoida", "Hydrozoa", "Hyperiidae", "Ostracoda", "Polychaeta", "Pteropoda", "Siphonophorae", "Other"],
                "range": ["#F8766D", "#E8852A", "#D09300", "#B49F00", "#88AC00", "#4AB400", "#00BC4D", "#00C085", "#00C0B1", "#00BCD5", "#00B2EF", "#3CA3FF", "#9A8DFF", "#D077FC", "#F166E8", "#FF61C6", "#FF699B"]}}
          }
        },
        {
          "data": {"values": [{"station": "MS_ARMS_multinet_ST1"}]},
          "mark": {"type": "rect", "fill": "#D9D9D9", "stroke": "#333333", "strokeWidth": 1.1},
          "encoding": {"x": {"datum": -5}, "x2": {"datum": 105}, "y": {"datum": -113.6}, "y2": {"datum": -58.3}}
        },
        {
          "data": {"values": [{"station": "MS_ARMS_multinet_ST1"}]},
          "mark": {"type": "text", "fontSize": 20.5, "color": "#1A1A1A", "font": "Liberation Sans", "baseline": "middle"},
          "encoding": {"text": {"field": "station", "type": "nominal"}, "y": {"datum": -85.95}}
        }
      ]
    },
    {
      "width": 255, "height": 811,
      "layer": [
        {
          "data": {"name": "abund"},
          "transform": [
            {"filter": "datum.station === 'MS_multinet_ST3'"},
            {"lookup": "taxon", "from": {"data": {"name": "taxa"}, "key": "taxon", "fields": ["k"]}},
            {"stack": "pct", "groupby": ["top"], "sort": [{"field": "k", "order": "ascending"}], "as": ["x0", "x1"]}
          ],
          "mark": {"type": "rect", "stroke": "#000000", "strokeWidth": 1.6, "fillOpacity": 0.72},
          "encoding": {
            "x": {"field": "x0", "type": "quantitative", "scale": {"domain": [-5, 105], "nice": false, "zero": false},
              "axis": {"title": "Relative abundance (%)", "titlePadding": 8, "values": [0, 12.5, 25, 37.5, 50, 62.5, 75, 87.5, 100], "labelExpr": "datum.value % 25 === 0 ? datum.label : ''", "tickOpacity": {"condition": {"test": "datum.value % 25 === 0", "value": 1}, "value": 0}, "gridWidth": {"condition": {"test": "datum.value % 25 === 0", "value": 1.1}, "value": 0.55}, "labelFlush": false, "labelOverlap": false}},
            "x2": {"field": "x1"},
            "y": {"field": "top", "type": "quantitative", "scale": {"domain": [-113.6, 1098.3], "reverse": true, "nice": false, "zero": false},
              "axis": {"title": null, "labels": false, "ticks": false, "values": [0, 125, 250, 375, 500, 625, 750, 875, 1000], "gridWidth": {"condition": {"test": "datum.value % 250 === 0", "value": 1.1}, "value": 0.55}}},
            "y2": {"field": "bottom"},
            "fill": {"field": "taxon", "type": "nominal", "title": "Taxon",
              "legend": {"encode": {"symbols": {"update": {"fillOpacity": {"value": 0.72}, "strokeOpacity": {"value": 1}}}}},
              "scale": {"domain": ["Actinopterygii", "Appendicularia", "Bivalvia", "Calanoida", "Chaetognatha", "Cyclopoida", "Echinodermata larvae", "Euphausia", "Foraminifera", "Harpacticoida", "Hydrozoa", "Hyperiidae", "Ostracoda", "Polychaeta", "Pteropoda", "Siphonophorae", "Other"],
                "range": ["#F8766D", "#E8852A", "#D09300", "#B49F00", "#88AC00", "#4AB400", "#00BC4D", "#00C085", "#00C0B1", "#00BCD5", "#00B2EF", "#3CA3FF", "#9A8DFF", "#D077FC", "#F166E8", "#FF61C6", "#FF699B"]}}
          }
        },
        {
          "data": {"values": [{"station": "MS_multinet_ST3"}]},
          "mark": {"type": "rect", "fill": "#D9D9D9", "stroke": "#333333", "strokeWidth": 1.1},
          "encoding": {"x": {"datum": -5}, "x2": {"datum": 105}, "y": {"datum": -113.6}, "y2": {"datum": -58.3}}
        },
        {
          "data": {"values": [{"station": "MS_multinet_ST3"}]},
          "mark": {"type": "text", "fontSize": 20.5, "color": "#1A1A1A", "font": "Liberation Sans", "baseline": "middle"},
          "encoding": {"text": {"field": "station", "type": "nominal"}, "y": {"datum": -85.95}}
        }
      ]
    },
    {
      "width": 255, "height": 811,
      "layer": [
        {
          "data": {"name": "abund"},
          "transform": [
            {"filter": "datum.station === 'MS_multinet_ST2'"},
            {"lookup": "taxon", "from": {"data": {"name": "taxa"}, "key": "taxon", "fields": ["k"]}},
            {"stack": "pct", "groupby": ["top"], "sort": [{"field": "k", "order": "ascending"}], "as": ["x0", "x1"]}
          ],
          "mark": {"type": "rect", "stroke": "#000000", "strokeWidth": 1.6, "fillOpacity": 0.72},
          "encoding": {
            "x": {"field": "x0", "type": "quantitative", "scale": {"domain": [-5, 105], "nice": false, "zero": false},
              "axis": {"title": null, "values": [0, 12.5, 25, 37.5, 50, 62.5, 75, 87.5, 100], "labelExpr": "datum.value % 25 === 0 ? datum.label : ''", "tickOpacity": {"condition": {"test": "datum.value % 25 === 0", "value": 1}, "value": 0}, "gridWidth": {"condition": {"test": "datum.value % 25 === 0", "value": 1.1}, "value": 0.55}, "labelFlush": false, "labelOverlap": false}},
            "x2": {"field": "x1"},
            "y": {"field": "top", "type": "quantitative", "scale": {"domain": [-113.6, 1098.3], "reverse": true, "nice": false, "zero": false},
              "axis": {"title": null, "labels": false, "ticks": false, "values": [0, 125, 250, 375, 500, 625, 750, 875, 1000], "gridWidth": {"condition": {"test": "datum.value % 250 === 0", "value": 1.1}, "value": 0.55}}},
            "y2": {"field": "bottom"},
            "fill": {"field": "taxon", "type": "nominal", "title": "Taxon",
              "legend": {"encode": {"symbols": {"update": {"fillOpacity": {"value": 0.72}, "strokeOpacity": {"value": 1}}}}},
              "scale": {"domain": ["Actinopterygii", "Appendicularia", "Bivalvia", "Calanoida", "Chaetognatha", "Cyclopoida", "Echinodermata larvae", "Euphausia", "Foraminifera", "Harpacticoida", "Hydrozoa", "Hyperiidae", "Ostracoda", "Polychaeta", "Pteropoda", "Siphonophorae", "Other"],
                "range": ["#F8766D", "#E8852A", "#D09300", "#B49F00", "#88AC00", "#4AB400", "#00BC4D", "#00C085", "#00C0B1", "#00BCD5", "#00B2EF", "#3CA3FF", "#9A8DFF", "#D077FC", "#F166E8", "#FF61C6", "#FF699B"]}}
          }
        },
        {
          "data": {"values": [{"station": "MS_multinet_ST2"}]},
          "mark": {"type": "rect", "fill": "#D9D9D9", "stroke": "#333333", "strokeWidth": 1.1},
          "encoding": {"x": {"datum": -5}, "x2": {"datum": 105}, "y": {"datum": -113.6}, "y2": {"datum": -58.3}}
        },
        {
          "data": {"values": [{"station": "MS_multinet_ST2"}]},
          "mark": {"type": "text", "fontSize": 20.5, "color": "#1A1A1A", "font": "Liberation Sans", "baseline": "middle"},
          "encoding": {"text": {"field": "station", "type": "nominal"}, "y": {"datum": -85.95}}
        }
      ]
    }
  ],
  "spacing": 13,
  "bounds": "flush"
}
